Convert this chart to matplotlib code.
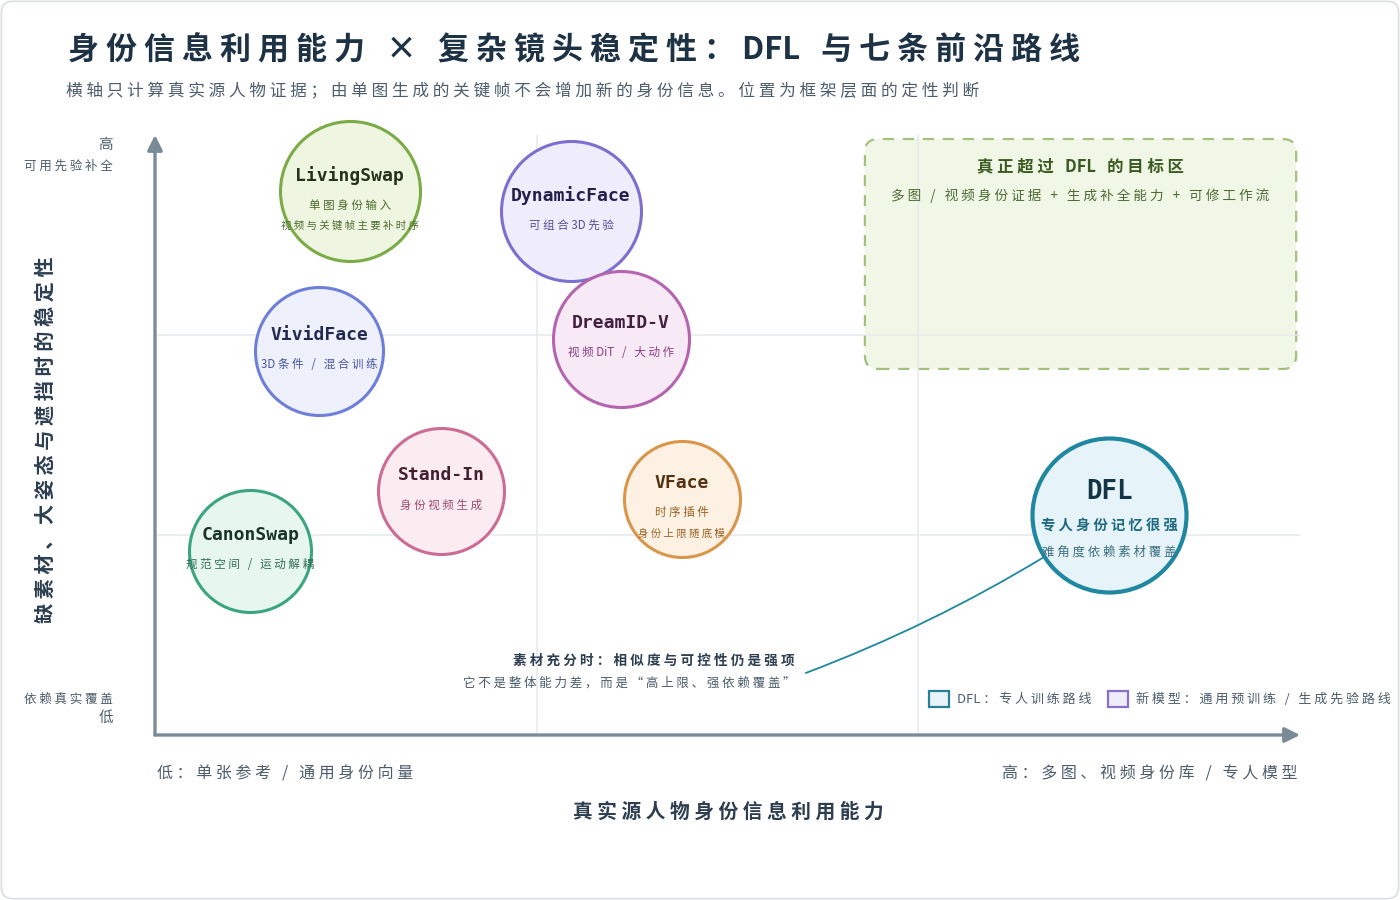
import matplotlib
matplotlib.use("Agg")
import matplotlib.pyplot as plt
from matplotlib.patches import FancyBboxPatch, Patch

plt.rcParams['font.family'] = ['Noto Sans CJK SC', 'DejaVu Sans']

# ---- data ----
models = ["LivingSwap", "DynamicFace", "DreamID-V", "VividFace", "Stand-In", "VFace", "CanonSwap", "DFL"]
identity_use = [0.51, 1.09, 1.22, 0.43, 0.75, 1.38, 0.25, 2.50]      # x: 0..3
shot_stability = [2.72, 2.62, 1.98, 1.92, 1.22, 1.18, 0.92, 1.10]    # y: 0..3
bubble_r = [70, 70, 68, 64, 63, 58, 61, 77]
notes = [
    ["单图身份输入", "视频与关键帧主要补时序"],
    ["可组合3D先验"],
    ["视频DiT / 大动作"],
    ["3D条件 / 混合训练"],
    ["身份视频生成"],
    ["时序插件", "身份上限随底模"],
    ["规范空间 / 运动解耦"],
    ["专人身份记忆很强", "难角度依赖素材覆盖"],
]
target_x = (1.86, 2.99)
target_y = (1.83, 2.98)

# styles: edge, fill, name colour, note colour
styles = [
    ("#7aab45", "#eef6e2", "#25331a", "#4a6a2a"),
    ("#7b6fcf", "#efedfb", "#23214a", "#564d9a"),
    ("#b565b0", "#f7e9f5", "#44203f", "#8a3f82"),
    ("#6d7fd8", "#eef0fb", "#232a52", "#4a56a0"),
    ("#cc6b93", "#fbecf2", "#44202f", "#a04a6c"),
    ("#d9964a", "#fdf1e4", "#55320f", "#9a6020"),
    ("#3aa57e", "#e8f6f0", "#1a3329", "#2f6f57"),
    ("#1f87a0", "#e6f3f8", "#143545", "#1f6a80"),
]


def spaced(t):
    # fake letter-spacing: a space after every character except inside latin words
    out = ""
    for i, ch in enumerate(t):
        out += ch
        if i < len(t) - 1:
            nx = t[i + 1]
            if not (ch.isascii() and ch.isalnum() and nx.isascii() and nx.isalnum()):
                out += " "
    return out


fig = plt.figure(figsize=(14, 9), dpi=100)
fig.patches.append(FancyBboxPatch((0.001, 0.0015), 0.998, 0.997, transform=fig.transFigure,
                                  boxstyle="round,pad=0,rounding_size=0.008", mutation_aspect=14 / 9,
                                  fc="white", ec="#dcdfe2", lw=1.2, zorder=-5))

ax = fig.add_axes([155 / 1400, 1 - 735 / 900, 1145 / 1400, 600 / 900])
ax.set_xlim(0, 3)
ax.set_ylim(0, 3)
ax.patch.set_alpha(0)
for s in ax.spines.values():
    s.set_visible(False)
ax.set_xticks([1, 2])
ax.set_yticks([1, 2])
ax.tick_params(length=0, labelbottom=False, labelleft=False)
ax.grid(color="#e6e9ec", lw=1.1, zorder=0)

# axes arrows
axcol = "#7a8b98"
ax.annotate("", xy=(0, 3.0), xytext=(0, 0), annotation_clip=False,
            arrowprops=dict(arrowstyle="-|>,head_length=0.9,head_width=0.45", color=axcol, lw=2.4, shrinkA=0, shrinkB=0))
ax.annotate("", xy=(3.0, 0), xytext=(0, 0), annotation_clip=False,
            arrowprops=dict(arrowstyle="-|>,head_length=0.9,head_width=0.45", color=axcol, lw=2.4, shrinkA=0, shrinkB=0))

# target zone
zone = FancyBboxPatch((target_x[0], target_y[0]), target_x[1] - target_x[0], target_y[1] - target_y[0],
                      boxstyle="round,pad=0,rounding_size=0.035", mutation_aspect=1.9,
                      fc="#edf5e2", ec="#8fb160", lw=1.6, ls=(0, (5, 4)), alpha=0.8, zorder=1)
ax.add_patch(zone)
zx = sum(target_x) / 2
ax.text(zx, target_y[1] - 0.135, spaced("真正超过 DFL 的目标区"), ha="center", va="center",
        fontsize=11.8, fontweight="bold", color="#3b5a20", zorder=2)
ax.text(zx, target_y[1] - 0.285, spaced("多图 / 视频身份证据 + 生成补全能力 + 可修工作流"), ha="center", va="center",
        fontsize=9.8, color="#4f6a35", zorder=2)

# bubbles
for i, m in enumerate(models):
    edge, fill, ncol, tcol = styles[i]
    r = bubble_r[i]
    lw = 3.0 if m == "DFL" else 2.2
    ax.scatter(identity_use[i], shot_stability[i], s=(2 * r * 0.72) ** 2, facecolor=fill,
               edgecolor=edge, linewidth=lw, zorder=3, clip_on=False)
    if m == "DFL":
        ax.annotate(m, (identity_use[i], shot_stability[i]), xytext=(0, 16.5), textcoords="offset points",
                    ha="center", va="center", fontsize=18.5, fontweight="bold", color=ncol,
                    family=["DejaVu Sans Mono"], zorder=4)
        ax.annotate(spaced(notes[i][0]), (identity_use[i], shot_stability[i]), xytext=(0, -8), textcoords="offset points",
                    ha="center", va="center", fontsize=10.3, fontweight="bold", color=tcol, zorder=4)
        ax.annotate(spaced(notes[i][1]), (identity_use[i], shot_stability[i]), xytext=(0, -26.5), textcoords="offset points",
                    ha="center", va="center", fontsize=9, color="#3f6f80", zorder=4)
        continue
    ax.annotate(m, (identity_use[i], shot_stability[i]), xytext=(0, 11.5), textcoords="offset points",
                ha="center", va="center", fontsize=13, fontweight="bold", color=ncol,
                family=["DejaVu Sans Mono"], zorder=4)
    ax.annotate(spaced(notes[i][0]), (identity_use[i], shot_stability[i]), xytext=(0, -10), textcoords="offset points",
                ha="center", va="center", fontsize=8.3, color=tcol, zorder=4)
    if len(notes[i]) > 1:
        ax.annotate(spaced(notes[i][1]), (identity_use[i], shot_stability[i]), xytext=(0, -25), textcoords="offset points",
                    ha="center", va="center", fontsize=7.5, color=tcol, zorder=4)

# callout to DFL
d = models.index("DFL")
ax.text(1.677, 0.37, spaced("素材充分时：相似度与可控性仍是强项"), ha="right", va="center",
        fontsize=9.8, fontweight="bold", color="#2c3e50")
ax.text(1.677, 0.26, spaced("它不是整体能力差，而是“高上限、强依赖覆盖”"), ha="right", va="center",
        fontsize=9, color="#4d5d6c")
ax.annotate("", xy=(identity_use[d], shot_stability[d]), xytext=(1.705, 0.31),
            arrowprops=dict(arrowstyle="-", color="#1f87a0", lw=1.3, shrinkA=0, shrinkB=56,
                            connectionstyle="arc3,rad=0.06"), zorder=2)

# legend
handles = [Patch(facecolor="#e6f3f8", edgecolor="#2a7f97", lw=1.6, label=spaced("DFL：专人训练路线")),
           Patch(facecolor="#efedfb", edgecolor="#8a6fc8", lw=1.6, label=spaced("新模型：通用预训练 / 生成先验路线"))]
leg = ax.legend(handles=handles, ncol=2, loc="center left", bbox_to_anchor=(0.666, 0.06), frameon=False,
                handlelength=1.5, handleheight=1.5, handletextpad=0.6, columnspacing=1.3, fontsize=9.4)
for t in leg.get_texts():
    t.set_color("#4d5d6c")

# titles and axis captions
fig.text(68 / 1400, 1 - 50 / 900, spaced("身份信息利用能力 × 复杂镜头稳定性：DFL 与七条前沿路线"),
         fontsize=22.3, fontweight="bold", color="#1e3246", ha="left", va="center")
fig.text(66 / 1400, 1 - 92 / 900, spaced("横轴只计算真实源人物证据；由单图生成的关键帧不会增加新的身份信息。位置为框架层面的定性判断"),
         fontsize=12, color="#4d5d6c", ha="left", va="center")
fig.text(45 / 1400, 1 - 440 / 900, spaced("缺素材、大姿态与遮挡时的稳定性"), rotation=90,
         fontsize=14.5, fontweight="bold", color="#2c3e50", ha="center", va="center")
fig.text(728 / 1400, 1 - 812 / 900, spaced("真实源人物身份信息利用能力"),
         fontsize=14.2, fontweight="bold", color="#2c3e50", ha="center", va="center")
fig.text(157 / 1400, 1 - 774 / 900, spaced("低：单张参考 / 通用身份向量"),
         fontsize=11.5, color="#4d5d6c", ha="left", va="center")
fig.text(1298 / 1400, 1 - 774 / 900, spaced("高：多图、视频身份库 / 专人模型"),
         fontsize=11.5, color="#4d5d6c", ha="right", va="center")
fig.text(113 / 1400, 1 - 145 / 900, "高", fontsize=10.5, color="#4d5d6c", ha="right", va="center")
fig.text(113 / 1400, 1 - 166 / 900, spaced("可用先验补全"), fontsize=9, color="#4d5d6c", ha="right", va="center")
fig.text(113 / 1400, 1 - 699 / 900, spaced("依赖真实覆盖"), fontsize=9, color="#4d5d6c", ha="right", va="center")
fig.text(113 / 1400, 1 - 718 / 900, "低", fontsize=10.5, color="#4d5d6c", ha="right", va="center")

fig.savefig("out.png", dpi=100)
